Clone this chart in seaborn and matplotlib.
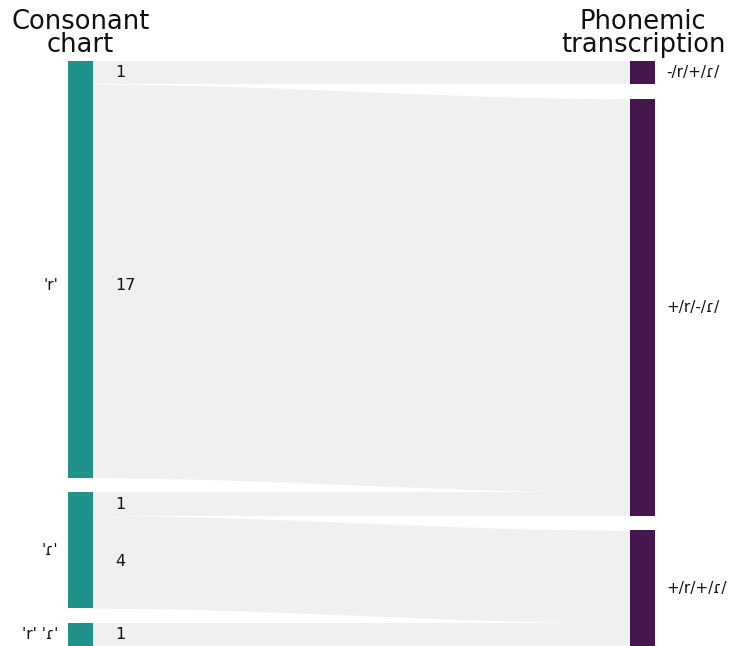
import numpy as np
import matplotlib
matplotlib.use("Agg")
import matplotlib.pyplot as plt
import seaborn as sns

# Sankey data: source -> target with counts
sources = ["'r'", "'r'", "'ɾ'", "'ɾ'", "'r' 'ɾ'"]
targets = ["-/r/+/ɾ/", "+/r/-/ɾ/", "+/r/-/ɾ/", "+/r/+/ɾ/", "+/r/+/ɾ/"]
counts = [1, 17, 1, 4, 1]

left_nodes = ["'r'", "'ɾ'", "'r' 'ɾ'"]
right_nodes = ["-/r/+/ɾ/", "+/r/-/ɾ/", "+/r/+/ɾ/"]

left_title = "Consonant\nchart"
right_title = "Phonemic\ntranscription"

sns.set_theme(style="white")
plt.rcParams['font.family'] = ['DejaVu Sans']

left_color = sns.color_palette("viridis", 11)[5]
right_color = "#46164f"
flow_color = "#f0f0f0"

W, H = 729, 646
fig = plt.figure(figsize=(W / 100, H / 100), dpi=100)
# axes covers the node area: x 68..655 px, y 61..646 px from top
ax = fig.add_axes([68 / W, 0, (655 - 68) / W, (646 - 61) / H])
ax.axis("off")

gap = 0.63  # gap between nodes, in count units
node_w = 25 / (655 - 68)

total = sum(counts)
ymax = total + gap * 2
ax.set_xlim(0, 1)
ax.set_ylim(ymax, 0)


def node_positions(nodes, side):
    pos = {}
    y = 0
    for n in nodes:
        size = sum(c for s, t, c in zip(sources, targets, counts) if (s if side == "L" else t) == n)
        pos[n] = (y, size)
        y += size + gap
    return pos


lpos = node_positions(left_nodes, "L")
rpos = node_positions(right_nodes, "R")

# flows
l_off = {n: lpos[n][0] for n in left_nodes}
r_off = {n: rpos[n][0] for n in right_nodes}
order = sorted(range(len(counts)), key=lambda i: (left_nodes.index(sources[i]), right_nodes.index(targets[i])))
x = np.linspace(node_w, 1 - node_w, 200)
t = (x - node_w) / (1 - 2 * node_w)
s = 3 * t**2 - 2 * t**3
flow_start = {}
for i in order:
    flow_start[i] = l_off[sources[i]]
    l_off[sources[i]] += counts[i]
for i in sorted(range(len(counts)), key=lambda i: (right_nodes.index(targets[i]), left_nodes.index(sources[i]))):
    tgt = targets[i]
    y1 = r_off[tgt]
    r_off[tgt] += counts[i]
    y0 = flow_start[i]
    c = counts[i]
    top = y0 + (y1 - y0) * s
    ax.fill_between(x, top, top + c, color=flow_color, lw=0, zorder=1)
    ly = y0 + c / 2 + (0.2 if c > 10 else 0)
    ax.text(node_w + 22 / 587, ly, str(c), ha="left", va="center", fontsize=11.5, color="#111111", zorder=3)

# nodes
for n in left_nodes:
    y, size = lpos[n]
    ax.add_patch(plt.Rectangle((0, y), node_w, size, color=left_color, lw=0, zorder=2))
    ly = y + size / 2
    if size > 10:
        ly += 0.7
    ax.text(-10 / 587, ly, n, ha="right", va="center", fontsize=11, color="#111111")
for n in right_nodes:
    y, size = rpos[n]
    ax.add_patch(plt.Rectangle((1 - node_w, y), node_w, size, color=right_color, lw=0, zorder=2))
    ax.text(1 + 11 / 587, y + size / 2, n, ha="left", va="center", fontsize=11, color="#111111")

# column titles
fig.text(80.5 / W, 1 - 52 / H, left_title, ha="center", va="baseline", fontsize=18.5, linespacing=0.85, color="#111111")
fig.text(643 / W, 1 - 52 / H, right_title, ha="center", va="baseline", fontsize=18.5, linespacing=0.85, color="#111111")

fig.savefig("out.png", dpi=100)
